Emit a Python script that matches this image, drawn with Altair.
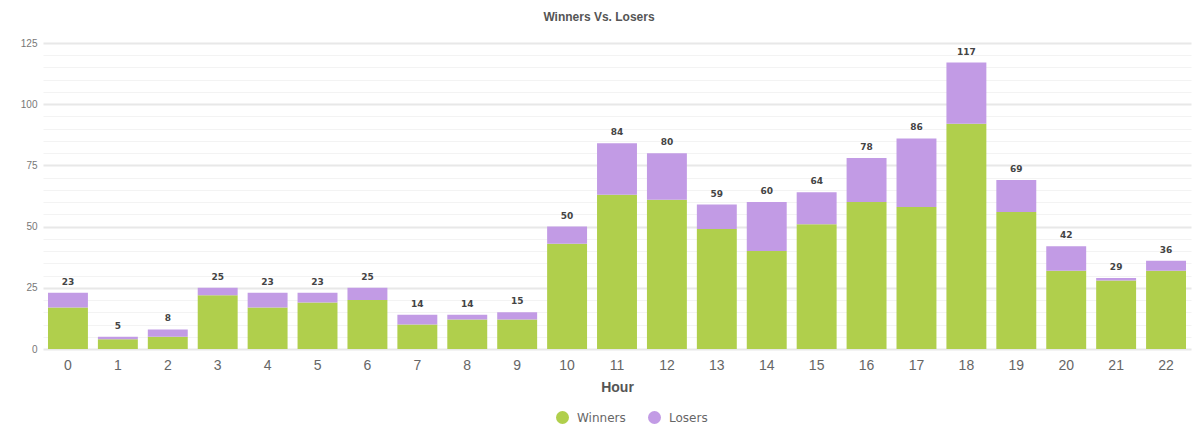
import altair as alt
import pandas as pd

hours = list(range(23))
winners = [17, 4, 5, 22, 17, 19, 20, 10, 12, 12, 43, 63, 61, 49, 40, 51, 60, 58, 92, 56, 32, 28, 32]
losers = [6, 1, 3, 3, 6, 4, 5, 4, 2, 3, 7, 21, 19, 10, 20, 13, 18, 28, 25, 13, 10, 1, 4]
totals = [23, 5, 8, 25, 23, 23, 25, 14, 14, 15, 50, 84, 80, 59, 60, 64, 78, 86, 117, 69, 42, 29, 36]
series = ["Winners", "Losers"]
colors = ["#b0cf4c", "#c29be5"]
y_ticks = list(range(0, 130, 5))

rows = []
for i, h in enumerate(hours):
    rows.append({"Hour": h, "Series": "Winners", "Count": winners[i], "ord": 0})
    rows.append({"Hour": h, "Series": "Losers", "Count": losers[i], "ord": 1})
df = pd.DataFrame(rows)
tot = pd.DataFrame({"Hour": hours, "Total": totals})

x = alt.X(
    "Hour:O",
    scale=alt.Scale(paddingInner=0.2, paddingOuter=0.1),
    axis=alt.Axis(
        title="Hour", labelAngle=0, ticks=False, domain=False, grid=False,
        labelFont="Liberation Sans", labelFontSize=14, labelColor="#666666", labelPadding=9,
        titleFont="Liberation Sans", titleFontSize=14, titleFontWeight="bold",
        titleColor="#555555", titlePadding=8,
    ),
)

y_axis = alt.Axis(
    title=None, values=y_ticks,
    labelExpr="datum.value % 25 === 0 ? datum.label : ''",
    ticks=False, domain=False,
    labelFont="Liberation Sans", labelFontSize=10, labelColor="#777777", labelPadding=6,
    gridColor={"condition": {"test": "datum.value % 25 === 0", "value": "#e8e8e8"}, "value": "#f3f3f3"},
    gridWidth={"condition": {"test": "datum.value % 25 === 0", "value": 2}, "value": 1},
)
y_scale = alt.Scale(domain=[0, 125], nice=False)

bars = alt.Chart(df).mark_bar().encode(
    x=x,
    y=alt.Y("Count:Q", stack="zero", scale=y_scale, axis=y_axis),
    color=alt.Color(
        "Series:N",
        scale=alt.Scale(domain=series, range=colors),
        legend=alt.Legend(
            title=None, orient="none", legendX=513, legendY=368, direction="horizontal",
            symbolType="circle", symbolSize=169, symbolStrokeWidth=0,
            labelFont="DejaVu Sans", labelFontSize=12, labelColor="#666666",
            labelOffset=8, columnPadding=22,
        ),
    ),
    order=alt.Order("ord:Q"),
)

labels = alt.Chart(tot).mark_text(
    dy=-6, baseline="bottom", font="DejaVu Sans", fontSize=9, fontWeight="bold", color="#444444"
).encode(
    x=x,
    y=alt.Y("Total:Q", scale=y_scale, axis=y_axis),
    text="Total:Q",
)

chart = alt.layer(bars, labels).properties(
    width=1148,
    height=306,
    title=alt.TitleParams(
        "Winners Vs. Losers", font="Liberation Sans", fontSize=12, fontWeight="bold",
        color="#555555", anchor="middle", offset=14, dx=-18,
    ),
    autosize=alt.AutoSizeParams(type="none"),
    padding={"left": 35, "top": 35, "right": 1, "bottom": 89},
).configure(background="white", view=alt.ViewConfig(stroke=None))

chart.save("out.html", embed_options={"renderer": "svg", "actions": False})
